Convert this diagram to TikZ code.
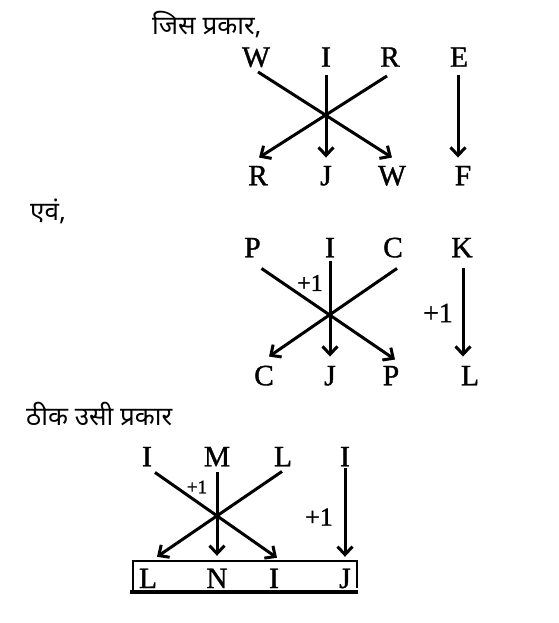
\documentclass[tikz,border=0pt]{standalone}
\usepackage{fontspec}
\setmainfont{Liberation Serif}
\newfontfamily\ltrfont[FakeBold=1.2]{Liberation Serif}
\newfontfamily\hindi[Script=Devanagari]{Noto Sans}
\usetikzlibrary{arrows.meta}

\begin{document}
\begin{tikzpicture}[x=1pt,y=-1pt,
	ltr/.style={inner sep=0pt,text height=18.5pt,text depth=0pt,font=\ltrfont\fontsize{29.5}{31}\selectfont},
	inc/.style={inner sep=0pt,font=\ltrfont\fontsize{#1}{#1}\selectfont},
	hin/.style={inner sep=0pt,anchor=west,font=\hindi\fontsize{26}{30}\selectfont},
	arr/.style={line width=3pt,-{Straight Barb[length=8pt,width=15pt]}}]
	\useasboundingbox (0,0) rectangle (558,623);
	% headings
	\node[hin] at (152,25) (h1) {जिस प्रकार,};
	\node[hin] at (30,211) (h2) {एवं,};
	\node[hin] at (26,414) (h3) {ठीक उसी प्रकार};
	% first
	\node[ltr] at (256,57.5) (w1) {W};
	\node[ltr] at (326,57.5) (i1) {I};
	\node[ltr] at (390,57.5) (r1) {R};
	\node[ltr] at (459,57.5) (e1) {E};
	\node[ltr] at (258,176) (r2) {R};
	\node[ltr] at (326,176) (j2) {J};
	\node[ltr] at (392,176) (w2) {W};
	\node[ltr] at (463,176) (f2) {F};
	\draw [arr] ([xshift=2pt,yshift=-5pt]w1.south) -- ([yshift=9pt]w2.north);
	\draw [arr] ([xshift=-3pt,yshift=-9pt]r1.south) -- ([xshift=1pt,yshift=9pt]r2.north);
	\draw [arr] ([yshift=-8pt]i1.south) -- ([yshift=9pt]j2.north);
	\draw [arr] ([xshift=-1pt,yshift=-8pt]e1.south) -- ([xshift=-5pt,yshift=9pt]f2.north);
	% second
	\node[ltr] at (252.5,248) (p1) {P};
	\node[ltr] at (330,248) (i3) {I};
	\node[ltr] at (393,248) (c1) {C};
	\node[ltr] at (462,248) (k1) {K};
	\node[ltr] at (264,376) (c2) {C};
	\node[ltr] at (330,376) (j3) {J};
	\node[ltr] at (391,376) (p2) {P};
	\node[ltr] at (470,376) (l2) {L};
	\draw [arr] ([xshift=9pt,yshift=-11pt]p1.south) -- ([xshift=4pt,yshift=7pt]p2.north);
	\draw [arr] ([xshift=4pt,yshift=-11pt]c1.south) -- ([xshift=5pt,yshift=10pt]c2.north);
	\draw [arr] ([yshift=-4pt]i3.south) -- ([yshift=10pt]j3.north);
	\draw [arr] ([xshift=1pt,yshift=-11pt]k1.south) -- ([xshift=-7pt,yshift=10pt]l2.north);
	\node[inc=24] at (310,283) (s1) {+1};
	\node[inc=28] at (438,313) (s2) {+1};
	% third
	\node[ltr] at (147,457) (i4) {I};
	\node[ltr] at (217,457) (m1) {M};
	\node[ltr] at (283,457) (l1) {L};
	\node[ltr] at (345,457) (i5) {I};
	\node[ltr] at (148,578.75) (l3) {L};
	\node[ltr] at (217,578.75) (n1) {N};
	\node[ltr] at (274,578.75) (i6) {I};
	\node[ltr] at (345,578.75) (j4) {J};
	\draw [arr] ([xshift=8pt,yshift=-6pt]i4.south) -- ([xshift=3pt,yshift=11.5pt]i6.north);
	\draw [arr] ([xshift=-1pt,yshift=-5pt]l1.south) -- ([xshift=9pt,yshift=12.5pt]l3.north);
	\draw [arr] ([yshift=-6pt]m1.south) -- ([yshift=13.5pt]n1.north);
	\draw [arr] ([yshift=-2pt]i5.south) -- ([yshift=12.5pt]j4.north);
	\node[inc=19] at (197,487) (s3) {+1};
	\node[inc=26] at (319,517) (s4) {+1};
	\draw [line width=2pt] (133,591) -- (133,561) -- (357,561) -- (357,588);
	\draw [line width=4pt] (130,592) -- (358,592);
\end{tikzpicture}
\end{document}
